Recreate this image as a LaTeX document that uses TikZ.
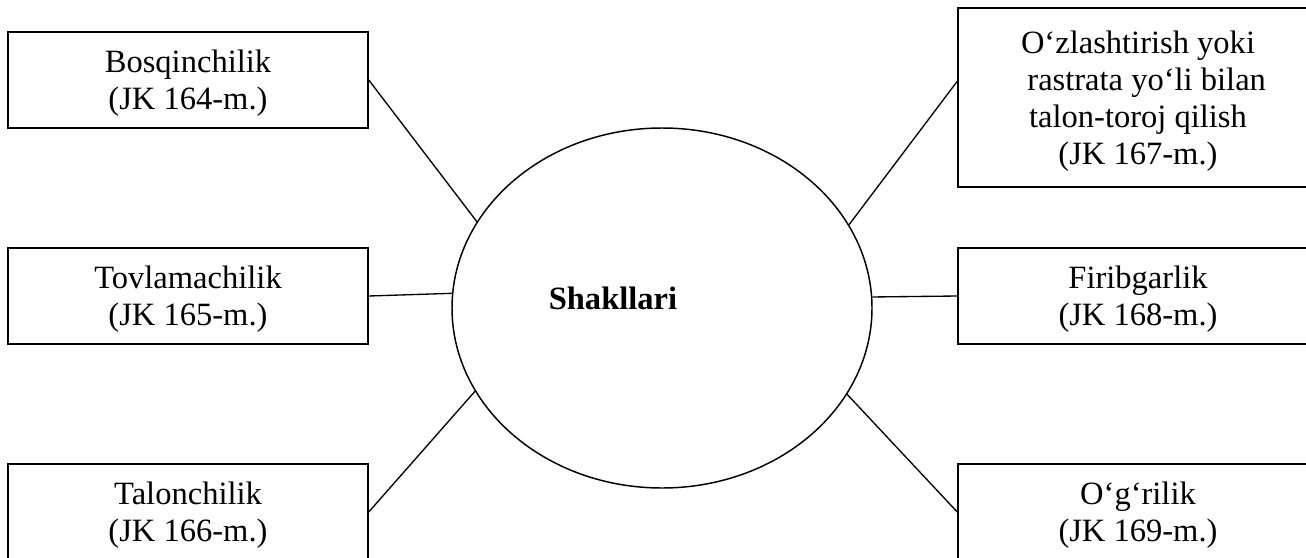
\documentclass[tikz,border=0pt]{standalone}
\usepackage{fontspec}
\setmainfont{Liberation Serif}
\usetikzlibrary{shapes.geometric,calc}

\begin{document}
\begin{tikzpicture}[x=0.75pt, y=-0.75pt,
  box/.style={draw, rectangle, line width=1.1pt, minimum width=270pt, minimum height=72pt, inner sep=0pt, text depth=0pt, align=center, font=\fontsize{24.4}{27.75}\selectfont},
  link/.style={line width=1pt}]
\useasboundingbox (0,0) rectangle (1306,557);
\clip (0,0) rectangle (1306,557);
% Markaz
\node[draw, ellipse, line width=1.1pt, minimum width=315pt, minimum height=270pt] (el) at (662,308) {};
\node[font=\fontsize{24.4}{27.75}\selectfont\bfseries] (sh) at (613,298) {Shakllari};
% Chap tomon
\node[box] (tl) at (188,80) {Bosqinchilik\\(JK 164-m.)};
\node[box] (ml) at (188,296) {Tovlamachilik\\(JK 165-m.)};
\node[box] (bl) at (188,512) {Talonchilik\\(JK 166-m.)};
% O'ng tomon
\node[box, minimum height=134.25pt] (tr) at (1138,97.5) {O‘zlashtirish yoki\\\hspace*{13pt}rastrata yo‘li bilan\\talon-toroj qilish\\(JK 167-m.)};
\node[box] (mr) at (1138,296) {Firibgarlik\\(JK 168-m.)};
\node[box] (br) at (1138,512) {O‘g‘rilik\\(JK 169-m.)};
% Bog'lanishlar
\draw[link] (tl.east) -- (el.155.4);
\draw[link] (ml.east) -- (el.176.7);
\draw[link] (bl.east) -- (el.204.6);
\draw[link] (el.24.4) -- ($(tr.north west)!0.41!(tr.south west)$);
\draw[link] (el.3.3) -- (mr.west);
\draw[link] (el.335.4) -- (br.west);
\end{tikzpicture}
\end{document}
